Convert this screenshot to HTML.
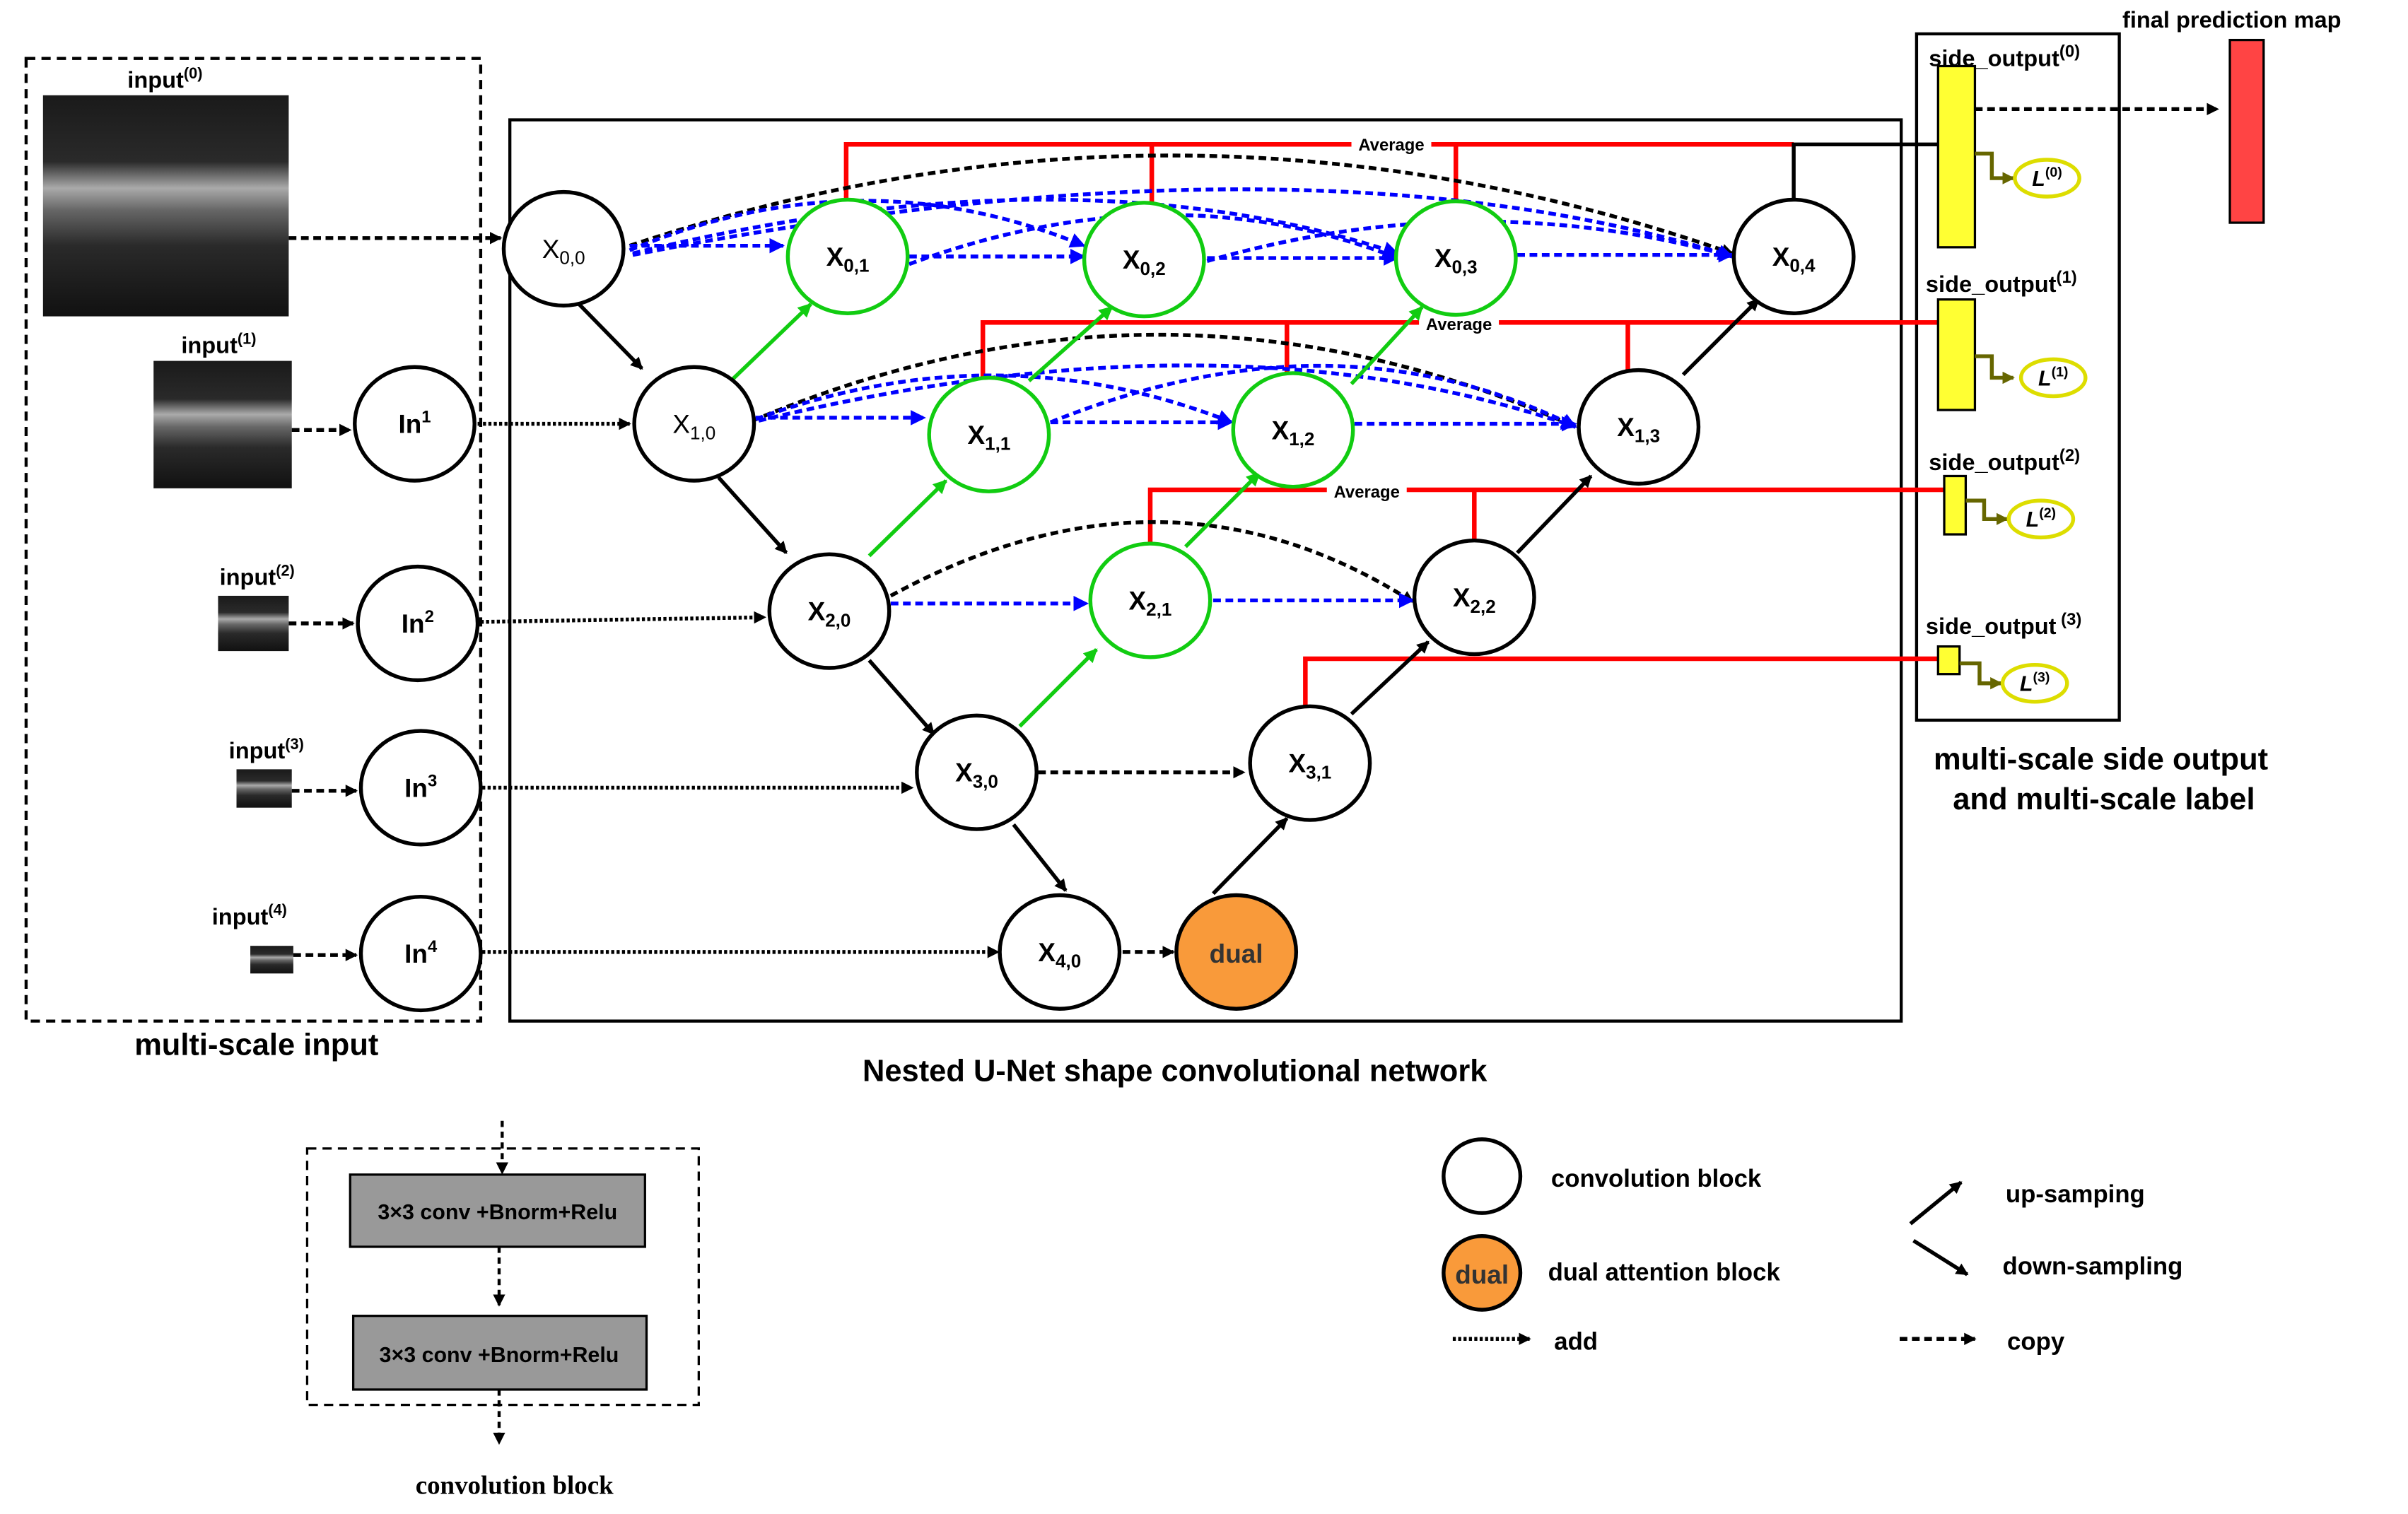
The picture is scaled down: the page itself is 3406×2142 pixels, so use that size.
<!DOCTYPE html>
<html><head><meta charset="utf-8"><style>html,body{margin:0;padding:0;background:#fff}svg{display:block}</style></head>
<body>
<svg width="3406" height="2142" viewBox="0 0 1568 986" xmlns="http://www.w3.org/2000/svg" font-family="Liberation Sans, sans-serif">
<defs>
<marker id="ak" markerWidth="8" markerHeight="8" refX="7" refY="4" orient="auto" markerUnits="userSpaceOnUse"><path d="M0,0 L8,4 L0,8 z" fill="#000"/></marker>
<marker id="ab" markerWidth="10" markerHeight="10" refX="9" refY="5" orient="auto" markerUnits="userSpaceOnUse"><path d="M0,0 L10,5 L0,10 z" fill="#00f"/></marker>
<marker id="ag" markerWidth="9" markerHeight="9" refX="8" refY="4.5" orient="auto" markerUnits="userSpaceOnUse"><path d="M0,0 L9,4.5 L0,9 z" fill="#1c1"/></marker>
<marker id="ao" markerWidth="8" markerHeight="8" refX="7" refY="4" orient="auto" markerUnits="userSpaceOnUse"><path d="M0,0 L8,4 L0,8 z" fill="#660"/></marker>
<linearGradient id="oct" x1="0" y1="0" x2="0" y2="1"><stop offset="0" stop-color="#1a1a1a"/><stop offset="0.3" stop-color="#2a2a2a"/><stop offset="0.42" stop-color="#aaa"/><stop offset="0.52" stop-color="#666"/><stop offset="0.68" stop-color="#2a2a2a"/><stop offset="1" stop-color="#111"/></linearGradient>
</defs>
<rect x="17" y="38" width="296" height="627" fill="none" stroke="#000" stroke-width="2" stroke-dasharray="6,4"/>
<rect x="332" y="78" width="906" height="587" fill="none" stroke="#000" stroke-width="2"/>
<rect x="1248" y="22" width="132" height="447" fill="none" stroke="#000" stroke-width="2"/>
<rect x="28" y="62" width="160" height="144" fill="url(#oct)"/>
<rect x="100" y="235" width="90" height="83" fill="url(#oct)"/>
<rect x="142" y="388" width="46" height="36" fill="url(#oct)"/>
<rect x="154" y="501" width="36" height="25" fill="url(#oct)"/>
<rect x="163" y="616" width="28" height="18" fill="url(#oct)"/>
<g font-weight="bold" font-size="15">
<text x="83" y="57">input<tspan font-size="10" dy="-6">(0)</tspan></text>
<text x="118" y="230">input<tspan font-size="10" dy="-6">(1)</tspan></text>
<text x="143" y="381">input<tspan font-size="10" dy="-6">(2)</tspan></text>
<text x="149" y="494">input<tspan font-size="10" dy="-6">(3)</tspan></text>
<text x="138" y="602">input<tspan font-size="10" dy="-6">(4)</tspan></text>
</g>
<g stroke="#000" stroke-width="2.5" stroke-dasharray="5,3" marker-end="url(#ak)">
<line x1="188" y1="155" x2="326" y2="155"/>
<line x1="190" y1="280" x2="228" y2="280"/>
<line x1="188" y1="406" x2="230" y2="406"/>
<line x1="190" y1="515" x2="232" y2="515"/>
<line x1="191" y1="622" x2="232" y2="622"/>
</g>
<g stroke="#000" stroke-width="2.5" stroke-dasharray="2,1.5" marker-end="url(#ak)">
<line x1="311" y1="276" x2="410" y2="276"/>
<line x1="313" y1="405" x2="498" y2="402"/>
<line x1="314" y1="513" x2="594" y2="513"/>
<line x1="314" y1="620" x2="650" y2="620"/>
</g>
<g stroke="#f00" stroke-width="3" fill="none">
<polyline points="551,130 551,94 1168,94"/><line x1="750" y1="94" x2="750" y2="132"/><line x1="948" y1="94" x2="948" y2="131"/>
<polyline points="640,247 640,210 1262,210"/><line x1="838" y1="210" x2="838" y2="244"/><line x1="1060" y1="210" x2="1060" y2="242"/>
<polyline points="749,355 749,319 1266,319"/><line x1="960" y1="319" x2="960" y2="352"/>
<polyline points="850,462 850,429 1262,429"/>
</g>
<polyline points="1168,130 1168,94 1262,94" stroke="#000" stroke-width="2.5" fill="none"/>
<g font-size="11" font-weight="bold" text-anchor="middle">
<rect x="880" y="88" width="52" height="12" fill="#fff"/><text x="906" y="98">Average</text>
<rect x="924" y="204" width="52" height="12" fill="#fff"/><text x="950" y="215">Average</text>
<rect x="864" y="313" width="52" height="12" fill="#fff"/><text x="890" y="324">Average</text>
</g>
<g stroke="#000" stroke-width="2.5" stroke-dasharray="5,3" fill="none" marker-end="url(#ak)">
<path d="M410,160 Q770,40 1128,165"/>
<path d="M490,274 Q760,160 1026,278"/>
<path d="M580,388 Q760,290 920,392"/>
</g>
<g stroke="#00f" stroke-width="2.5" stroke-dasharray="5,3" fill="none" marker-end="url(#ab)">
<line x1="410" y1="160" x2="510" y2="160"/>
<path d="M410,163 Q560,100 706,160"/>
<path d="M412,165 Q700,95 910,165"/>
<path d="M412,166 Q850,80 1128,167"/>
<line x1="592" y1="167" x2="706" y2="167"/>
<path d="M592,172 Q760,110 910,168"/>
<line x1="786" y1="168" x2="910" y2="168"/>
<path d="M786,170 Q960,120 1128,167"/>
<line x1="988" y1="166" x2="1128" y2="166"/>
<line x1="492" y1="272" x2="602" y2="272"/>
<path d="M492,273 Q650,215 802,275"/>
<path d="M494,274 Q800,200 1026,278"/>
<line x1="684" y1="275" x2="802" y2="275"/>
<path d="M684,275 Q870,200 1026,278"/>
<line x1="882" y1="276" x2="1026" y2="276"/>
<line x1="580" y1="393" x2="708" y2="393"/>
<line x1="790" y1="391" x2="920" y2="391"/>
</g>
<g stroke="#000" stroke-width="2.5" marker-end="url(#ak)">
<line x1="376" y1="197" x2="418" y2="240"/>
<line x1="468" y1="311" x2="512" y2="360"/>
<line x1="566" y1="430" x2="608" y2="478"/>
<line x1="660" y1="537" x2="694" y2="580"/>
<line x1="790" y1="582" x2="838" y2="533"/>
<line x1="880" y1="465" x2="930" y2="418"/>
<line x1="988" y1="360" x2="1036" y2="310"/>
<line x1="1096" y1="244" x2="1145" y2="195"/>
</g>
<line x1="731" y1="620" x2="764" y2="620" stroke="#000" stroke-width="2.5" stroke-dasharray="5,3" marker-end="url(#ak)"/>
<line x1="676" y1="503" x2="810" y2="503" stroke="#000" stroke-width="2.5" stroke-dasharray="5,3" marker-end="url(#ak)"/>
<g stroke="#1c1" stroke-width="2.5" marker-end="url(#ag)">
<line x1="477" y1="247" x2="528" y2="198"/>
<line x1="670" y1="248" x2="724" y2="200"/>
<line x1="880" y1="250" x2="926" y2="200"/>
<line x1="566" y1="362" x2="616" y2="313"/>
<line x1="772" y1="356" x2="820" y2="308"/>
<line x1="664" y1="473" x2="714" y2="423"/>
</g>
<g stroke-width="2.5" fill="#fff">
<g stroke="#000">
<ellipse cx="367" cy="162" rx="39" ry="37"/><ellipse cx="1168" cy="167" rx="39" ry="37"/>
<ellipse cx="270" cy="276" rx="39" ry="37"/><ellipse cx="452" cy="276" rx="39" ry="37"/><ellipse cx="1067" cy="278" rx="39" ry="37"/>
<ellipse cx="272" cy="406" rx="39" ry="37"/><ellipse cx="540" cy="398" rx="39" ry="37"/><ellipse cx="960" cy="389" rx="39" ry="37"/>
<ellipse cx="274" cy="513" rx="39" ry="37"/><ellipse cx="636" cy="503" rx="39" ry="37"/><ellipse cx="853" cy="497" rx="39" ry="37"/>
<ellipse cx="274" cy="621" rx="39" ry="37"/><ellipse cx="690" cy="620" rx="39" ry="37"/>
<ellipse cx="805" cy="620" rx="39" ry="37" fill="#f99a3a"/>
<ellipse cx="965" cy="766" rx="25" ry="24"/>
<ellipse cx="965" cy="829" rx="25" ry="24" fill="#f99a3a"/>
</g>
<g stroke="#1c1">
<ellipse cx="552" cy="167" rx="39" ry="37"/><ellipse cx="745" cy="169" rx="39" ry="37"/><ellipse cx="948" cy="168" rx="39" ry="37"/>
<ellipse cx="644" cy="283" rx="39" ry="37"/><ellipse cx="842" cy="280" rx="39" ry="37"/><ellipse cx="749" cy="391" rx="39" ry="37"/>
</g>
</g>
<g font-size="17" text-anchor="middle">
<text x="367" y="168">X<tspan font-size="12" dy="4">0,0</tspan></text>
<text x="552" y="173" font-weight="bold">X<tspan font-size="12" dy="4">0,1</tspan></text>
<text x="745" y="175" font-weight="bold">X<tspan font-size="12" dy="4">0,2</tspan></text>
<text x="948" y="174" font-weight="bold">X<tspan font-size="12" dy="4">0,3</tspan></text>
<text x="1168" y="173" font-weight="bold">X<tspan font-size="12" dy="4">0,4</tspan></text>
<text x="270" y="282" font-weight="bold">In<tspan font-size="11" dy="-7">1</tspan></text>
<text x="452" y="282">X<tspan font-size="12" dy="4">1,0</tspan></text>
<text x="644" y="289" font-weight="bold">X<tspan font-size="12" dy="4">1,1</tspan></text>
<text x="842" y="286" font-weight="bold">X<tspan font-size="12" dy="4">1,2</tspan></text>
<text x="1067" y="284" font-weight="bold">X<tspan font-size="12" dy="4">1,3</tspan></text>
<text x="272" y="412" font-weight="bold">In<tspan font-size="11" dy="-7">2</tspan></text>
<text x="540" y="404" font-weight="bold">X<tspan font-size="12" dy="4">2,0</tspan></text>
<text x="749" y="397" font-weight="bold">X<tspan font-size="12" dy="4">2,1</tspan></text>
<text x="960" y="395" font-weight="bold">X<tspan font-size="12" dy="4">2,2</tspan></text>
<text x="274" y="519" font-weight="bold">In<tspan font-size="11" dy="-7">3</tspan></text>
<text x="636" y="509" font-weight="bold">X<tspan font-size="12" dy="4">3,0</tspan></text>
<text x="853" y="503" font-weight="bold">X<tspan font-size="12" dy="4">3,1</tspan></text>
<text x="274" y="627" font-weight="bold">In<tspan font-size="11" dy="-7">4</tspan></text>
<text x="690" y="626" font-weight="bold">X<tspan font-size="12" dy="4">4,0</tspan></text>
<text x="805" y="627" font-weight="bold" fill="#333">dual</text>
<text x="965" y="836" font-weight="bold" fill="#333">dual</text>
</g>
<g stroke="#000" stroke-width="1.5" fill="#ff3">
<rect x="1262" y="43" width="24" height="118"/><rect x="1262" y="195" width="24" height="72"/>
<rect x="1266" y="310" width="14" height="38"/><rect x="1262" y="421" width="14" height="18"/>
</g>
<rect x="1452" y="26" width="22" height="119" fill="#f44" stroke="#000" stroke-width="1.5"/>
<line x1="1286" y1="71" x2="1444" y2="71" stroke="#000" stroke-width="2.5" stroke-dasharray="5,3" marker-end="url(#ak)"/>
<g stroke="#660" stroke-width="2.5" fill="none" marker-end="url(#ao)">
<polyline points="1286,100 1297,100 1297,116 1311,116"/>
<polyline points="1286,232 1297,232 1297,246 1311,246"/>
<polyline points="1280,326 1292,326 1292,338 1307,338"/>
<polyline points="1276,432 1289,432 1289,445 1303,445"/>
</g>
<g stroke="#dd0" stroke-width="2.5" fill="#fff">
<ellipse cx="1333" cy="116" rx="21" ry="12"/><ellipse cx="1337" cy="246" rx="21" ry="12"/>
<ellipse cx="1329" cy="338" rx="21" ry="12"/><ellipse cx="1325" cy="445" rx="21" ry="12"/>
</g>
<g font-size="14" font-weight="bold" font-style="italic" text-anchor="middle">
<text x="1333" y="121">L<tspan font-size="9" dy="-6" font-style="normal">(0)</tspan></text>
<text x="1337" y="251">L<tspan font-size="9" dy="-6" font-style="normal">(1)</tspan></text>
<text x="1329" y="343">L<tspan font-size="9" dy="-6" font-style="normal">(2)</tspan></text>
<text x="1325" y="450">L<tspan font-size="9" dy="-6" font-style="normal">(3)</tspan></text>
</g>
<g font-size="15" font-weight="bold">
<text x="1256" y="43">side_output<tspan font-size="11" dy="-6">(0)</tspan></text>
<text x="1254" y="190">side_output<tspan font-size="11" dy="-6">(1)</tspan></text>
<text x="1256" y="306">side_output<tspan font-size="11" dy="-6">(2)</tspan></text>
<text x="1254" y="413">side_output<tspan font-size="11" dy="-6"> (3)</tspan></text>
<text x="1382" y="18">final prediction map</text>
</g>
<g font-size="20" font-weight="bold" text-anchor="middle">
<text x="1368" y="501">multi-scale side output</text>
<text x="1370" y="527">and multi-scale label</text>
<text x="167" y="687">multi-scale input</text>
<text x="765" y="704">Nested U-Net  shape convolutional network</text>
</g>
<rect x="200" y="748" width="255" height="167" fill="none" stroke="#000" stroke-width="1.5" stroke-dasharray="6,4"/>
<rect x="228" y="765" width="192" height="47" fill="#999" stroke="#000" stroke-width="1.5"/>
<rect x="230" y="857" width="191" height="48" fill="#999" stroke="#000" stroke-width="1.5"/>
<g stroke="#000" stroke-width="2" stroke-dasharray="4,3" marker-end="url(#ak)">
<line x1="327" y1="730" x2="327" y2="764"/><line x1="325" y1="812" x2="325" y2="850"/><line x1="325" y1="905" x2="325" y2="940"/>
</g>
<g font-size="14" font-weight="bold" text-anchor="middle">
<text x="324" y="794">3×3 conv +Bnorm+Relu</text>
<text x="325" y="887">3×3 conv +Bnorm+Relu</text>
</g>
<text x="335" y="973" font-size="17" font-weight="bold" text-anchor="middle" font-family="Liberation Serif, serif">convolution block</text>
<g font-size="16" font-weight="bold">
<text x="1010" y="773">convolution  block</text>
<text x="1008" y="834">dual attention block</text>
<text x="1012" y="879">add</text>
<text x="1306" y="783">up-samping</text>
<text x="1304" y="830">down-sampling</text>
<text x="1307" y="879">copy</text>
</g>
<line x1="946" y1="872" x2="996" y2="872" stroke="#000" stroke-width="2.5" stroke-dasharray="2,1.5" marker-end="url(#ak)"/>
<line x1="1237" y1="872" x2="1286" y2="872" stroke="#000" stroke-width="2.5" stroke-dasharray="5,3" marker-end="url(#ak)"/>
<line x1="1244" y1="797" x2="1277" y2="770" stroke="#000" stroke-width="2.5" marker-end="url(#ak)"/>
<line x1="1246" y1="808" x2="1281" y2="830" stroke="#000" stroke-width="2.5" marker-end="url(#ak)"/>
</svg>
</body></html>
